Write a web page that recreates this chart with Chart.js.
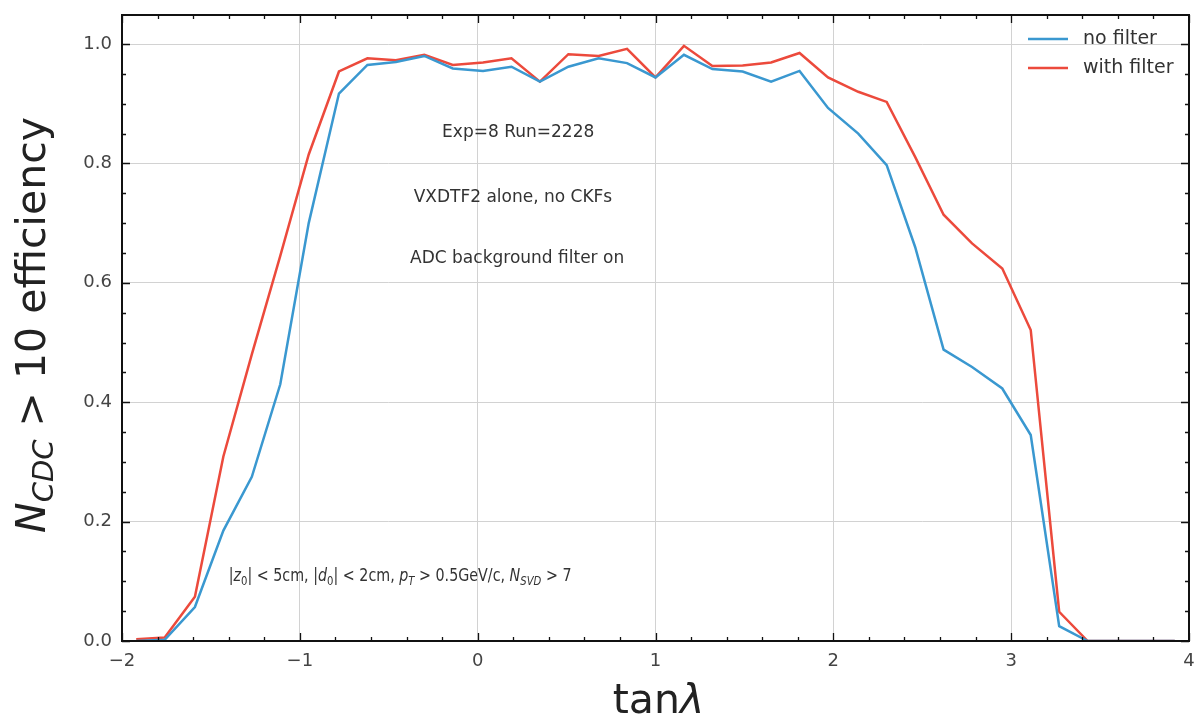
<!DOCTYPE html>
<html>
<head>
<meta charset="utf-8">
<script src="https://cdn.jsdelivr.net/npm/chart.js@4.4.1/dist/chart.umd.min.js"></script>
<style>
  html, body { margin: 0; padding: 0; background: #fff; }
</style>
</head>
<body>
<canvas id="eff-chart" width="1203" height="719"></canvas>
<script>
// bin centres in tan(lambda)
const tanLambda = [-1.92, -1.76, -1.59, -1.43, -1.27, -1.11, -0.95, -0.78, -0.62, -0.46,
  -0.30, -0.14, 0.03, 0.19, 0.35, 0.51, 0.68, 0.84, 1.00, 1.16,
  1.32, 1.49, 1.65, 1.81, 1.97, 2.14, 2.30, 2.46, 2.62, 2.78,
  2.95, 3.11, 3.27, 3.43, 3.59, 3.76, 3.92];

const noFilter = [0.0, 0.002, 0.057, 0.185, 0.275, 0.43, 0.70, 0.917, 0.965, 0.970,
  0.980, 0.959, 0.955, 0.962, 0.937, 0.962, 0.976, 0.968, 0.944, 0.982,
  0.958, 0.954, 0.937, 0.955, 0.893, 0.850, 0.797, 0.66, 0.488, 0.459,
  0.423, 0.345, 0.025, 0.0, 0.0, 0.0, 0.0];

const withFilter = [0.003, 0.006, 0.074, 0.309, 0.48, 0.645, 0.815, 0.954, 0.976, 0.973,
  0.982, 0.965, 0.969, 0.976, 0.937, 0.983, 0.980, 0.992, 0.944, 0.997,
  0.963, 0.964, 0.969, 0.985, 0.944, 0.920, 0.903, 0.811, 0.714, 0.666,
  0.624, 0.521, 0.049, 0.0, 0.0, 0.0, 0.0];

const seriesLabels = ["no filter", "with filter"];
const seriesColors = ["#3a98d0", "#ec4a3c"];

const xTicks = [-2, -1, 0, 1, 2, 3, 4];
const yTicks = [0.0, 0.2, 0.4, 0.6, 0.8, 1.0];
const xMinorStep = 0.2;
const yMinorStep = 0.05;

const FONT = "'DejaVu Sans', sans-serif";

// rich text: [text, style] with style n = normal, i = italic, s = subscript, si = italic subscript
function partFont(style, size) {
  const sub = style[0] === "s";
  const ital = style.indexOf("i") >= 0;
  return (ital ? "italic " : "") + Math.round(sub ? size * 0.7 : size) + "px " + FONT;
}
function richWidth(ctx, parts, size) {
  let w = 0;
  parts.forEach(([t, s]) => { ctx.font = partFont(s, size); w += ctx.measureText(t).width; });
  return w;
}
function drawRich(ctx, parts, x, y, size, align, squeeze) {
  const k = squeeze || 1;
  ctx.save();
  ctx.translate(x, y);
  ctx.scale(k, 1);
  let cx = align === "center" ? -richWidth(ctx, parts, size) / 2 : 0;
  ctx.textAlign = "left";
  ctx.textBaseline = "alphabetic";
  parts.forEach(([t, s]) => {
    ctx.font = partFont(s, size);
    const dy = s[0] === "s" ? size * 0.2 : 0;
    ctx.fillText(t, cx, dy);
    cx += ctx.measureText(t).width;
  });
  ctx.restore();
}

const notes = [
  { x: -0.2, y: 0.845, squeeze: 1, parts: [["Exp=8 Run=2228", "n"]] },
  { x: -0.36, y: 0.735, squeeze: 1, parts: [["VXDTF2 alone, no CKFs", "n"]] },
  { x: -0.38, y: 0.633, squeeze: 1, parts: [["ADC background filter on", "n"]] },
  { x: -1.4, y: 0.1, squeeze: 0.84, parts: [["|", "n"], ["z", "i"], ["0", "s"], ["| < 5cm, |", "n"], ["d", "i"], ["0", "s"],
    ["| < 2cm, ", "n"], ["p", "i"], ["T", "si"], [" > 0.5GeV/c, ", "n"], ["N", "i"], ["SVD", "si"], [" > 7", "n"]] }
];

const framePlugin = {
  id: "frame",
  afterDraw(chart) {
    const { ctx, chartArea: a, scales: { x, y } } = chart;
    ctx.save();
    // frame
    ctx.strokeStyle = "#111";
    ctx.lineWidth = 2;
    ctx.strokeRect(a.left, a.top, a.right - a.left, a.bottom - a.top);
    // inward ticks on all sides
    ctx.lineWidth = 1.3;
    ctx.beginPath();
    const nx = Math.round((x.max - x.min) / xMinorStep);
    for (let i = 0; i <= nx; i++) {
      const px = Math.round(x.getPixelForValue(x.min + i * xMinorStep)) + 0.5;
      const len = i % 5 === 0 ? 8 : 4;
      ctx.moveTo(px, a.bottom); ctx.lineTo(px, a.bottom - len);
      ctx.moveTo(px, a.top); ctx.lineTo(px, a.top + len);
    }
    const ny = Math.floor((y.max - y.min) / yMinorStep + 1e-6);
    for (let i = 0; i <= ny; i++) {
      const py = Math.round(y.getPixelForValue(y.min + i * yMinorStep)) + 0.5;
      const len = i % 4 === 0 ? 8 : 4;
      ctx.moveTo(a.left, py); ctx.lineTo(a.left + len, py);
      ctx.moveTo(a.right, py); ctx.lineTo(a.right - len, py);
    }
    ctx.stroke();

    // annotations
    ctx.fillStyle = "#333";
    notes.forEach(n => drawRich(ctx, n.parts, x.getPixelForValue(n.x), y.getPixelForValue(n.y), 17, "left", n.squeeze));

    // legend
    ctx.font = "19px " + FONT;
    chart.data.datasets.forEach((ds, i) => {
      const ly = 39 + i * 29;
      ctx.strokeStyle = ds.borderColor;
      ctx.lineWidth = 2.5;
      ctx.beginPath();
      ctx.moveTo(1028, ly); ctx.lineTo(1068, ly);
      ctx.stroke();
      ctx.fillStyle = "#333";
      ctx.textAlign = "left";
      ctx.textBaseline = "middle";
      ctx.fillText(ds.label, 1083, ly);
    });

    // axis titles
    ctx.fillStyle = "#222";
    drawRich(ctx, [["tan", "n"], ["\u03bb", "i"]], (a.left + a.right) / 2 + 3, 713, 41, "center");
    ctx.translate(45, (a.top + a.bottom) / 2 - 3);
    ctx.rotate(-Math.PI / 2);
    drawRich(ctx, [["N", "i"], ["CDC", "si"], [" > 10 efficiency", "n"]], 0, 0, 41, "center");
    ctx.restore();
  }
};

const ctx = document.getElementById("eff-chart").getContext("2d");
new Chart(ctx, {
  type: "line",
  data: {
    datasets: [
      {
        label: seriesLabels[0],
        data: tanLambda.map((v, i) => ({ x: v, y: noFilter[i] })),
        borderColor: seriesColors[0],
        borderWidth: 2.5,
        pointRadius: 0,
        tension: 0,
        fill: false,
      },
      {
        label: seriesLabels[1],
        data: tanLambda.map((v, i) => ({ x: v, y: withFilter[i] })),
        borderColor: seriesColors[1],
        borderWidth: 2.5,
        pointRadius: 0,
        tension: 0,
        fill: false,
      },
    ],
  },
  options: {
    responsive: false,
    animation: false,
    devicePixelRatio: 1,
    layout: { padding: { top: 15, right: 14, left: 0, bottom: 0 } },
    plugins: { legend: { display: false }, tooltip: { enabled: false } },
    scales: {
      x: {
        type: "linear",
        min: -2,
        max: 4,
        afterBuildTicks: s => { s.ticks = xTicks.map(v => ({ value: v })); },
        afterFit: s => { s.height = 78; s.paddingLeft = 0; s.paddingRight = 0; },
        ticks: {
          padding: 10,
          color: "#444",
          font: { family: FONT, size: 18 },
          callback: v => (v < 0 ? "\u2212" + Math.abs(v) : String(v)),
        },
        grid: { color: "#d2d2d2", lineWidth: 1, drawTicks: false },
        border: { display: false },
      },
      y: {
        type: "linear",
        min: 0,
        max: 1.0486,
        afterBuildTicks: s => { s.ticks = yTicks.map(v => ({ value: v })); },
        afterFit: s => { s.width = 122; s.paddingTop = 0; s.paddingBottom = 0; },
        ticks: {
          padding: 10,
          color: "#444",
          font: { family: FONT, size: 18 },
          callback: v => Number(v).toFixed(1),
        },
        grid: { color: "#d2d2d2", lineWidth: 1, drawTicks: false },
        border: { display: false },
      },
    },
  },
  plugins: [framePlugin],
});
</script>
</body>
</html>
